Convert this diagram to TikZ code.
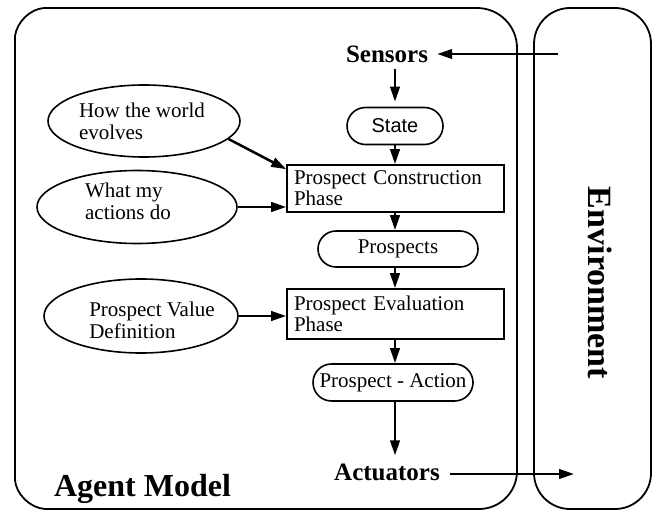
\documentclass[tikz,border=0pt]{standalone}
\usepackage{fontspec}
\setmainfont{Liberation Serif}
\newfontfamily\sansf{Liberation Sans}
\usetikzlibrary{arrows.meta,shapes.geometric,shapes.misc,calc}
\tikzset{
  arr/.style={line width=2.5pt,-{Triangle[length=15pt,width=9.5pt]}},
  frame/.style={line width=1.8pt},
  phasebox/.style={draw,line width=1.6pt,minimum width=217pt,inner sep=0pt,
    text width=203pt,align=left,font=\fontsize{21}{21}\selectfont},
  stadium/.style={draw,line width=1.6pt,rounded rectangle,inner sep=0pt,font=\fontsize{21}{21}\selectfont},
  oval/.style={draw,line width=1.6pt,ellipse,inner sep=0pt},
  ovaltext/.style={font=\fontsize{21}{22}\selectfont,align=left,inner sep=0pt},
  big/.style={font=\bfseries\fontsize{25}{25}\selectfont,inner sep=0pt},
}
\begin{document}
\begin{tikzpicture}[x=1pt,y=-1pt]
\useasboundingbox (0,0) rectangle (666,513);
% agent frame
\draw[frame,line join=round] (15,36) .. controls (17,22) and (30,9) .. (44,8) -- (477,8)
  arc[start angle=-90,end angle=0,radius=40] -- (517,471)
  arc[start angle=0,end angle=90,radius=38] -- (45,509)
  .. controls (30,508) and (16,494) .. (15,480) -- cycle;
% environment frame
\draw[frame,rounded corners=36pt] (534,8) rectangle (651,509);
\node[rotate=-90,font=\bfseries\fontsize{34}{34}\selectfont,inner sep=0pt] (envlabel) at (600,283) {Environment};
\node[font=\bfseries\fontsize{32}{32}\selectfont,inner sep=0pt] (agentlabel) at (142.5,489) {Agent Model};

% column
\node[big] (sensors) at (387,54) {Sensors};
\node[stadium,minimum width=96pt,minimum height=37pt,font=\sansf\fontsize{20}{20}\selectfont] (state) at (395,126) {State};
\node[phasebox,minimum height=47pt] (pcp) at (395.5,188.5) {Prospect Construction\\Phase};
\node[stadium,minimum width=160pt,minimum height=36pt] (prospects) at (398,249) {Prospects};
\node[phasebox,minimum height=50pt] (pep) at (395.5,314) {Prospect Evaluation\\Phase};
\node[stadium,minimum width=160pt,minimum height=37pt] (pa) at (393,382.5) {Prospect - Action};
\node[big] (actuators) at (387,472) {Actuators};

% ellipses
\node[oval,minimum width=192pt,minimum height=72pt] (ew) at (144,121) {};
\node[ovaltext] (ewt) at (142,121) {How the world\\evolves};
\node[oval,minimum width=200pt,minimum height=73pt] (wa) at (137,207) {};
\node[ovaltext] (wat) at (128,201) {What my\\actions do};
\node[oval,minimum width=194pt,minimum height=74pt] (pv) at (141,316) {};
\node[ovaltext] (pvt) at (152,320) {Prospect Value\\Definition};

% free ends in the environment
\coordinate (envin) at (558,54);
\coordinate (envout) at (574,474);

% connectors
\draw[arr,shorten >=9pt] (envin) -- (sensors.east);
\draw[arr,shorten <=6pt,shorten >=5pt] (sensors.south -| state) -- (state.north);
\draw[arr] (state.south) -- (state.south |- pcp.north);
\draw[arr] (pcp.south -| state) -- (prospects.north -| state);
\draw[arr] (prospects.south -| state) -- (pep.north -| state);
\draw[arr] (pep.south -| state) -- (pa.north -| state);
\draw[arr,shorten >=8pt] (pa.south -| state) -- (actuators.north -| state);
\draw[arr,shorten <=10pt] (actuators.east |- envout) -- (envout);
\draw[arr] (ew.-12) -- ($(pcp.north west)+(0,5)$);
\draw[arr] (wa.east) -- (wa.east -| pcp.west);
\draw[arr] (pv.east) -- (pv.east -| pep.west);
\end{tikzpicture}
\end{document}
